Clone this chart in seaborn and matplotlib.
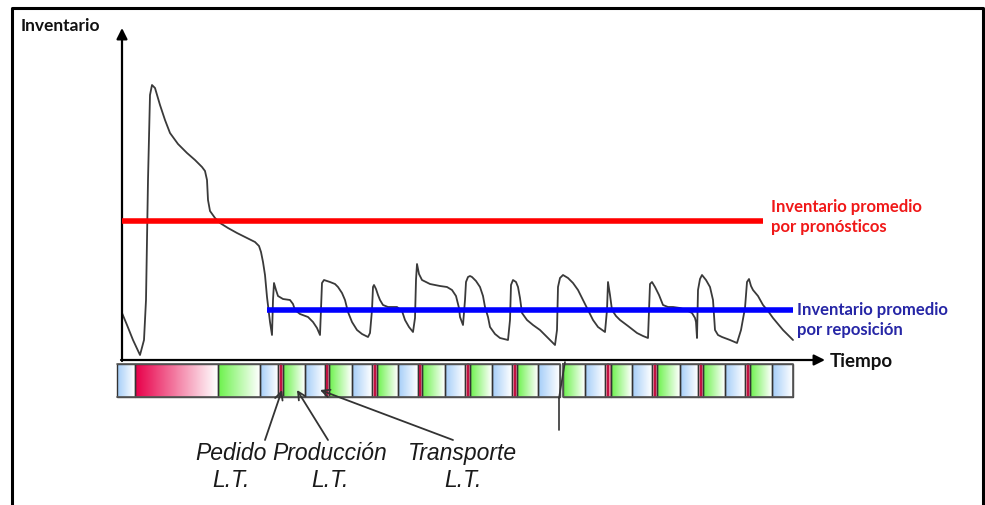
import numpy as np
import matplotlib
matplotlib.use("Agg")
import matplotlib.pyplot as plt
from matplotlib.colors import LinearSegmentedColormap
from matplotlib.patches import Rectangle
import seaborn as sns
import pandas as pd

sns.set_theme(style="white")
plt.rcParams['font.family'] = ['Lato', 'DejaVu Sans']

# ---- inventory curve: (time, inventory level) in picture units ----
curve_points = [
    (122, 313), (127, 325), (133, 340), (140, 355), (144, 340), (146, 300), (148, 180), (150, 95),
    (152, 85), (155, 88), (160, 105), (165, 120), (170, 133), (178, 144), (187, 153), (195, 160),
    (202, 167), (205, 171), (207, 180), (208, 200), (210, 211), (215, 218), (220, 223), (228, 228),
    (237, 233), (247, 238), (255, 242), (259, 246), (261, 252), (263, 262), (265, 275), (267, 297),
    (270, 322), (272, 335), (273, 300), (274, 283), (276, 290), (278, 296), (283, 299), (290, 300),
    (293, 304), (295, 310), (300, 314), (308, 317), (313, 322), (317, 328), (320, 335), (321, 310),
    (322, 283), (324, 280), (330, 282), (335, 284), (338, 287), (342, 293), (345, 300), (348, 312),
    (352, 322), (357, 330), (362, 334), (368, 337), (370, 333), (372, 310), (373, 287), (374, 285),
    (376, 289), (378, 295), (380, 300), (383, 305), (388, 307), (397, 307), (402, 311), (405, 320),
    (409, 327), (413, 332), (415, 318), (416, 280), (417, 264), (419, 274), (422, 280), (430, 284),
    (440, 286), (447, 287), (452, 290), (456, 296), (459, 308), (460, 317), (463, 325), (465, 300),
    (466, 282), (468, 277), (470, 276), (472, 277), (476, 281), (480, 287), (483, 296), (485, 307),
    (488, 317), (490, 327), (495, 334), (500, 338), (508, 340), (510, 320), (511, 285), (513, 280),
    (516, 282), (518, 287), (520, 298), (522, 313), (527, 320), (533, 325), (540, 330), (545, 335),
    (550, 340), (555, 345), (557, 330), (558, 287), (560, 278), (563, 275), (568, 278), (573, 283),
    (578, 290), (583, 300), (588, 310), (593, 320), (598, 327), (605, 332), (607, 310), (608, 282),
    (610, 295), (612, 310), (616, 316), (620, 320), (628, 326), (637, 333), (643, 336), (648, 338),
    (649, 310), (650, 284), (652, 282), (655, 287), (659, 295), (663, 305), (668, 307), (673, 307),
    (680, 308), (686, 310), (692, 313), (695, 318), (696, 322), (697, 338), (698, 290), (700, 279),
    (702, 275), (706, 280), (710, 287), (713, 300), (714, 315), (715, 330), (718, 335), (722, 337),
    (730, 340), (737, 343), (741, 330), (745, 308), (747, 282), (749, 279), (751, 286), (753, 290),
    (758, 296), (763, 305), (768, 311), (773, 318), (783, 330), (793, 340),
]

# average levels
avg_labels = ["Inventario promedio\npor pronósticos", "Inventario promedio\npor reposición"]
avg_levels = [221, 310]
avg_start = [122, 267]
avg_end = [763, 793]
avg_colors = ["#ff0000", "#0000ff"]
avg_text_colors = ["#f01818", "#2626a6"]

# timeline cells: b=transport, R=first order, r=order, g=production
cell_start = [117, 135, 218, 260, 278, 283, 305, 325, 329, 352, 372, 377, 398, 418, 422, 445, 465, 470,
              492, 512, 517, 538, 563, 585, 605, 611, 632, 652, 657, 680, 698, 703, 725, 745, 750, 772]
cell_end = [135, 218, 260, 278, 283, 305, 325, 329, 352, 372, 377, 398, 418, 422, 445, 465, 470, 492,
            512, 517, 538, 560, 585, 605, 611, 632, 652, 657, 680, 698, 703, 725, 745, 750, 772, 793]
cell_kind = ['b', 'R', 'g', 'b', 'r', 'g', 'b', 'r', 'g', 'b', 'r', 'g', 'b', 'r', 'g', 'b', 'r', 'g',
             'b', 'r', 'g', 'b', 'g', 'b', 'r', 'g', 'b', 'r', 'g', 'b', 'r', 'g', 'b', 'r', 'g', 'b']

ann_labels = ["Pedido\nL.T.", "Producción\nL.T.", "Transporte\nL.T."]
ann_text_x = [231, 330, 463]
ann_tip_x = [282, 297, 320]
ann_tail_x = [265, 328, 453]

fig = plt.figure(figsize=(9.85, 5.05), dpi=100)
ax = fig.add_axes([0, 0, 1, 1])

df = pd.DataFrame(curve_points, columns=["t", "v"])
sns.lineplot(data=df, x="t", y="v", sort=False, estimator=None, color="#3a3a3a", lw=1.3, ax=ax, zorder=3)

for lvl, s, e, c in zip(avg_levels, avg_start, avg_end, avg_colors):
    ax.plot([s, e], [lvl, lvl], color=c, lw=4.0, solid_capstyle='butt', zorder=4)

ax.text(771, 217, avg_labels[0], color=avg_text_colors[0], fontsize=12, fontweight='bold',
        va='center', ha='left', linespacing=1.3)
ax.text(797, 320, avg_labels[1], color=avg_text_colors[1], fontsize=12, fontweight='bold',
        va='center', ha='left', linespacing=1.3)

# axes arrows
ax.annotate("", xy=(122, 28), xytext=(122, 361),
            arrowprops=dict(arrowstyle='-|>', color='black', lw=1.6, mutation_scale=16, shrinkA=0, shrinkB=0))
ax.annotate("", xy=(825, 360), xytext=(121, 360),
            arrowprops=dict(arrowstyle='-|>', color='black', lw=1.6, mutation_scale=16, shrinkA=0, shrinkB=0))
ax.text(21, 26, "Inventario", fontsize=12.5, fontweight='bold', ha='left', va='center', color='#111111')
ax.text(830, 362, "Tiempo", fontsize=13.5, fontweight='bold', ha='left', va='center', color='#111111')

# timeline strip
top, bot = 364, 397
colors = {'b': '#a4cdf8', 'g': '#6cf24c', 'R': '#e8004a', 'r': '#e83c5c'}
grad = np.linspace(0, 1, 64)[None, :]
for s, e, k in zip(cell_start, cell_end, cell_kind):
    cm = LinearSegmentedColormap.from_list('c', [colors[k], 'white'])
    if k == 'r':
        ax.add_patch(Rectangle((s, top), e - s, bot - top, facecolor='#f08aa0', edgecolor='#333333', lw=1.0, zorder=2))
        ax.plot([(s + e) / 2, (s + e) / 2], [top, bot], color='#c01040', lw=1.4, zorder=2)
    else:
        ax.imshow(grad, cmap=cm, extent=(s, e, bot, top), aspect='auto', zorder=1, interpolation='bilinear')
        ax.add_patch(Rectangle((s, top), e - s, bot - top, facecolor='none', edgecolor='#333333', lw=1.0, zorder=2))
ax.plot([117, 560, 560], [top, top, bot], color='#555555', lw=1.2, zorder=2)
ax.plot([117, 560], [bot, bot], color='#555555', lw=1.2, zorder=2)
ax.plot([563, 793, 793, 563, 563], [top, top, bot, bot, top], color='#555555', lw=1.2, zorder=2)
ax.plot([559, 565], [398, 362], color='#333333', lw=1.2, zorder=3)
ax.plot([559, 559], [398, 430], color='#333333', lw=1.2, zorder=3)

for lab, tx, tip, tail in zip(ann_labels, ann_text_x, ann_tip_x, ann_tail_x):
    ax.annotate("", xy=(tip, 390), xytext=(tail, 440),
                arrowprops=dict(arrowstyle='->', color='#333333', lw=1.3, mutation_scale=14, shrinkA=0, shrinkB=0))
    ax.text(tx, 467, lab, fontsize=16.5, fontstyle='italic', ha='center', va='center',
            family=['Liberation Sans', 'DejaVu Sans'], color='#1a1a1a', linespacing=1.25)

# frame
ax.plot([12, 12, 983, 983], [505, 8, 8, 505], color='black', lw=2.2, zorder=5)

ax.set_xlim(0, 985)
ax.set_ylim(505, 0)
ax.axis('off')
fig.savefig("out.png", dpi=100)
